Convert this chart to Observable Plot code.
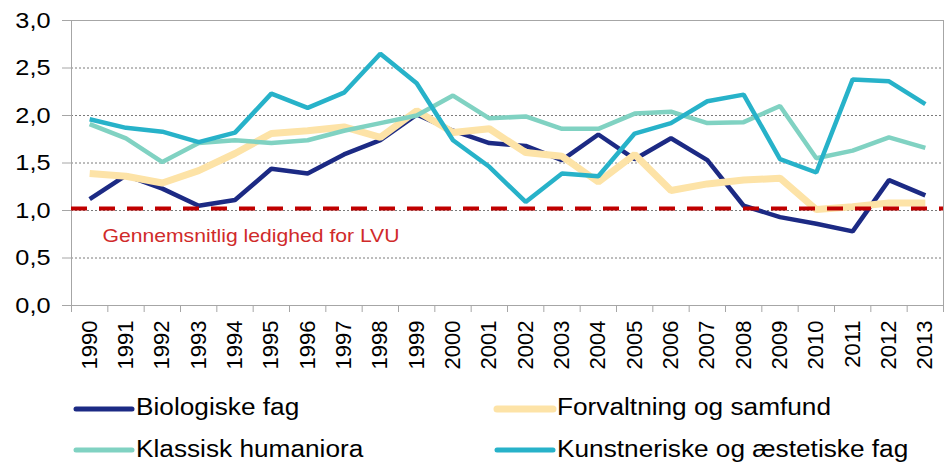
<!DOCTYPE html>
<html><head><meta charset="utf-8">
<script src="https://cdn.jsdelivr.net/npm/d3@7"></script>
<script src="https://cdn.jsdelivr.net/npm/@observablehq/plot@0.6"></script>
<style>
body{margin:0;background:#fff;}
#wrap{width:944px;height:463px;}
</style></head><body><div id="wrap"></div>
<script>
const years = [1990,1991,1992,1993,1994,1995,1996,1997,1998,1999,2000,2001,2002,2003,2004,2005,2006,2007,2008,2009,2010,2011,2012,2013];
const biologiske = [1.12,1.37,1.23,1.05,1.11,1.44,1.39,1.59,1.74,2.01,1.84,1.71,1.68,1.53,1.80,1.54,1.76,1.53,1.05,0.93,0.86,0.78,1.32,1.16];
const forvaltning = [1.39,1.36,1.29,1.42,1.60,1.81,1.84,1.88,1.77,2.05,1.82,1.86,1.61,1.57,1.30,1.59,1.21,1.28,1.32,1.34,1.01,1.04,1.08,1.08];
const klassisk = [1.91,1.76,1.51,1.71,1.74,1.71,1.74,1.84,1.92,2.00,2.21,1.97,1.99,1.86,1.86,2.02,2.04,1.92,1.93,2.10,1.55,1.63,1.77,1.66];
const kunstneriske = [1.96,1.87,1.83,1.72,1.82,2.23,2.08,2.24,2.65,2.34,1.74,1.46,1.09,1.39,1.36,1.81,1.92,2.15,2.22,1.54,1.40,2.38,2.36,2.12];
const seriesNames = ["Biologiske fag","Forvaltning og samfund","Klassisk humaniora","Kunstneriske og æstetiske fag"];
const seriesColors = ["#1c2a84","#fde3a7","#80d2c2","#27b2c9"];
const seriesWidths = [4.5,7,4.5,4.5];
const avgValue = 1.02;
const avgLabel = "Gennemsnitlig ledighed for LVU";
const avgLabelY = 0.73;
const yTicks = [0,0.5,1,1.5,2,2.5,3];

const seriesValues = [biologiske, forvaltning, klassisk, kunstneriske];
const series = seriesNames.map((name,i)=>({name, color:seriesColors[i], width:seriesWidths[i],
  data: years.map((y,j)=>({year:y, value:seriesValues[i][j]}))}));
const boundaries = years.map(y=>y-0.5).concat([years[years.length-1]+0.5]);
const fmt = d => d3.format(".1f")(d).replace(".", ",");
const font = "Liberation Sans, Arial, sans-serif";

const chart = Plot.plot({
  width:944, height:463, marginLeft:71, marginRight:1, marginTop:20, marginBottom:158,
  x:{domain:[years[0]-0.5, years[years.length-1]+0.5]},
  y:{domain:[0,3]},
  style:{fontFamily:font, background:"#fff", color:"#000"},
  marks:[
    Plot.gridY(yTicks.filter(d=>d>0 && d<3), {stroke:"#7a7a7a", strokeOpacity:1, strokeDasharray:"2,2", strokeWidth:1}),
    Plot.frame({stroke:"#a6a6a6"}),
    Plot.axisY({ticks:yTicks, tickFormat:fmt, tickSize:9, tickPadding:12, fontSize:22, stroke:"#a6a6a6", fill:"#000", label:null}),
    Plot.axisX({ticks:boundaries, tickFormat:()=>"", tickSize:7, stroke:"#a6a6a6", label:null}),
    Plot.text(years, {x:d=>d, frameAnchor:"bottom", dy:15, rotate:-90, textAnchor:"end", lineAnchor:"middle", fontSize:22, fill:"#000", text:d=>String(d)}),
    ...series.map(s=>Plot.line(s.data, {x:"year", y:"value", stroke:s.color, strokeWidth:s.width, strokeLinejoin:"miter", strokeLinecap:"butt"})),
    Plot.ruleY([avgValue], {stroke:"#c00000", strokeWidth:4, strokeDasharray:"16,12"}),
    Plot.text([avgLabel], {frameAnchor:"left", y:avgLabelY, dx:31, textAnchor:"start", fontSize:19, fill:"#d02a2a", text:d=>d, className:"avglabel"})
  ]
});
document.getElementById("wrap").appendChild(chart);
const svg = d3.select(chart);

svg.selectAll('[aria-label="y-axis tick label"] text').each(function(){
  const w = this.getComputedTextLength();
  d3.select(this).attr("textLength", w*1.15).attr("lengthAdjust","spacingAndGlyphs");
});
svg.selectAll('.avglabel text').attr("textLength", 297).attr("lengthAdjust","spacingAndGlyphs");

// legend
const leg = svg.append("g").attr("font-family", font).attr("font-size", 23).attr("text-anchor","start");
const colX = [76, 497], rowSw = [409, 450], rowBase = [415, 457];
series.forEach((s,i)=>{
  const c = i%2, r = Math.floor(i/2);
  leg.append("line").attr("x1",colX[c]).attr("x2",colX[c]+56).attr("y1",rowSw[r]).attr("y2",rowSw[r])
    .attr("stroke",s.color).attr("stroke-width", i===1?7:5).attr("stroke-linecap","round");
  const t = leg.append("text").attr("x",colX[c]+60).attr("y",rowBase[r]).attr("fill","#000").attr("text-anchor","start").text(s.name);
  const w = t.node().getComputedTextLength();
  t.attr("textLength", w*1.14).attr("lengthAdjust","spacingAndGlyphs");
});
</script></body></html>
